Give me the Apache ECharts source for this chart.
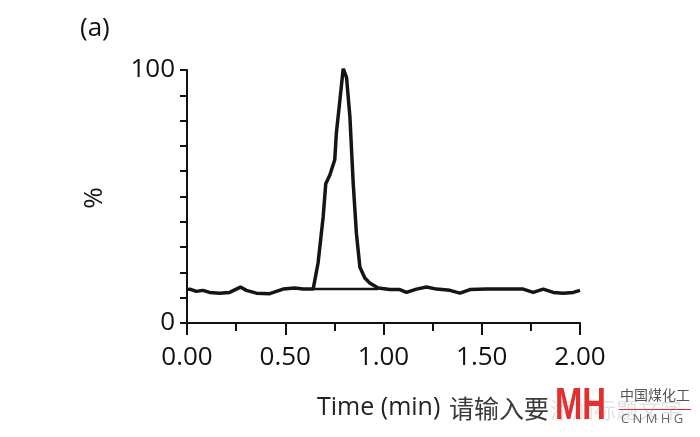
<!DOCTYPE html>
<html>
<head>
<meta charset="utf-8">
<script src="https://cdn.jsdelivr.net/npm/echarts@6/dist/echarts.min.js"></script>
<style>
	html, body { margin: 0; padding: 0; background: #fff; }
	#chart { width: 700px; height: 437px; }
</style>
</head>
<body>
<div id="chart"></div>
<script>
	// 色谱曲线 (时间, 百分比)
	const traceTime = [
		0.00, 0.014, 0.048, 0.081, 0.115, 0.166, 0.217, 0.251, 0.272, 0.302, 0.353, 0.421, 0.455, 0.489, 0.548, 0.591, 0.642,
		0.667, 0.693, 0.706, 0.727, 0.752, 0.760, 0.778, 0.795, 0.812, 0.829, 0.846, 0.862, 0.880, 0.905, 0.930, 0.973,
		1.032, 1.083, 1.117, 1.168, 1.219, 1.270, 1.338, 1.389, 1.440, 1.525, 1.610, 1.711, 1.762, 1.813, 1.864, 1.915, 1.966, 2.00
	]
	const traceValue = [
		13.2, 13.4, 12.5, 12.9, 12.1, 11.8, 12.1, 13.4, 14.2, 12.9, 11.8, 11.6, 12.5, 13.4, 13.8, 13.4, 13.4,
		23.7, 42.0, 55.0, 58.5, 64.5, 75.0, 88.0, 100.6, 97.0, 81.6, 55.0, 35.5, 22.0, 17.8, 15.8, 13.8,
		13.2, 13.2, 12.1, 13.4, 14.2, 13.4, 12.9, 11.8, 13.2, 13.4, 13.4, 13.4, 12.1, 13.4, 12.1, 11.8, 12.1, 12.9
	]
	// 积分基线
	const baseTime = [0.642, 0.973]
	const baseValue = [13.4, 13.4]

	const xTicks = [0, 0.5, 1.0, 1.5, 2.0]
	const yLabels = [0, 100]

	const myChart = echarts.init(document.getElementById('chart'))
	const fontFam = '"Open Sans", "Noto Sans", sans-serif'

	const option = {
		animation: false,
		grid: {
			left: 187,
			right: 120,
			top: 70,
			bottom: 114
		},
		xAxis: {
			type: 'value',
			min: xTicks[0],
			max: xTicks[xTicks.length - 1],
			interval: 0.5,
			axisLine: { lineStyle: { color: '#111', width: 2 } },
			axisTick: { length: 12, lineStyle: { color: '#111', width: 2 } },
			minorTick: { show: true, splitNumber: 2, length: 8, lineStyle: { color: '#111', width: 2 } },
			splitLine: { show: false },
			axisLabel: {
				color: '#111',
				fontSize: 26,
				fontFamily: fontFam,
				margin: 22,
				formatter: v => v.toFixed(2)
			}
		},
		yAxis: {
			type: 'value',
			min: 0,
			max: 100,
			interval: 10,
			axisLine: { show: true, lineStyle: { color: '#111', width: 2 } },
			axisTick: { show: true, length: 7, lineStyle: { color: '#111', width: 2 } },
			splitLine: { show: false },
			axisLabel: {
				color: '#111',
				fontSize: 26,
				fontFamily: fontFam,
				margin: 12,
				formatter: v => yLabels.indexOf(v) >= 0 ? String(v) : ''
			}
		},
		series: [{
			type: 'line',
			data: traceTime.map((t, i) => [t, traceValue[i]]),
			showSymbol: false,
			lineStyle: { color: '#151515', width: 3.5 }
		}, {
			type: 'line',
			data: baseTime.map((t, i) => [t, baseValue[i]]),
			showSymbol: false,
			lineStyle: { color: '#151515', width: 2.5 }
		}],
		graphic: [
			{ type: 'text', left: 80, top: 16, style: { text: '(a)', fontSize: 26, fontFamily: fontFam, fill: '#111' } },
			{ type: 'text', x: 95, y: 198, rotation: Math.PI / 2, style: { text: '%', fontSize: 26, fontFamily: fontFam, fill: '#111', align: 'center', verticalAlign: 'middle' } },
			{ type: 'text', left: 317, top: 395, style: { text: 'Time (min)', fontSize: 25, fontFamily: fontFam, fill: '#222' } },
			{ type: 'text', left: 449, top: 396, style: { text: '请输入要', fontSize: 25, fontFamily: '"Noto Sans CJK SC", sans-serif', fill: '#3a3a3a' } },
			{ type: 'text', left: 550, top: 399, style: { text: '添加标题文字', fontSize: 22, fontFamily: '"Noto Sans CJK SC", sans-serif', fill: 'rgba(190,190,190,0.45)' } },
			{ type: 'text', x: 555, y: 384, scaleX: 0.82, scaleY: 1.12, style: { text: 'MH', fontSize: 40, fontWeight: 'bold', fontFamily: '"Liberation Sans", sans-serif', fill: '#e03030' } },
			{ type: 'text', left: 620, top: 388, style: { text: '中国煤化工', fontSize: 14, fontFamily: '"Noto Sans CJK SC", sans-serif', fill: '#555' } },
			{ type: 'rect', shape: { x: 619, y: 409, width: 72, height: 1 }, style: { fill: '#e03030' } },
			{ type: 'text', left: 621, top: 413, style: { text: 'C N M H G', fontSize: 13, fontFamily: fontFam, fill: '#666' } }
		]
	}

	myChart.setOption(option)
</script>
</body>
</html>
